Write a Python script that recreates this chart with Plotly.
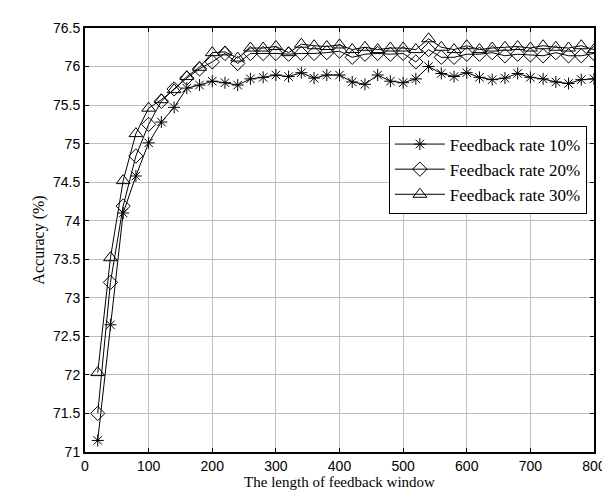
import plotly.graph_objects as go

window = list(range(20, 801, 20))

rate10 = [71.15, 72.65, 74.10, 74.58, 75.01, 75.28, 75.47, 75.72, 75.76, 75.81,
          75.79, 75.76, 75.84, 75.86, 75.89, 75.87, 75.92, 75.85, 75.89, 75.89,
          75.80, 75.77, 75.89, 75.81, 75.79, 75.84, 76.00, 75.91, 75.87, 75.92,
          75.86, 75.83, 75.85, 75.91, 75.86, 75.84, 75.80, 75.78, 75.83, 75.84]

rate20 = [71.50, 73.20, 74.19, 74.84, 75.25, 75.55, 75.71, 75.85, 75.97, 76.06,
          76.17, 76.04, 76.17, 76.17, 76.17, 76.16, 76.17, 76.17, 76.18, 76.20,
          76.12, 76.16, 76.17, 76.16, 76.17, 76.06, 76.22, 76.12, 76.12, 76.16,
          76.16, 76.18, 76.14, 76.16, 76.15, 76.14, 76.18, 76.14, 76.14, 76.17]

rate30 = [72.03, 73.52, 74.52, 75.13, 75.46, 75.57, 75.70, 75.87, 75.99, 76.18,
          76.19, 76.11, 76.24, 76.24, 76.26, 76.18, 76.29, 76.27, 76.26, 76.28,
          76.22, 76.25, 76.22, 76.24, 76.24, 76.22, 76.36, 76.25, 76.22, 76.27,
          76.22, 76.24, 76.25, 76.26, 76.24, 76.27, 76.25, 76.24, 76.27, 76.22]

names = ["Feedback rate 10%", "Feedback rate 20%", "Feedback rate 30%"]
symbols = ["asterisk-open", "diamond-open", "triangle-up-open"]
sizes = [10, 11, 12]

fig = go.Figure()
for ys, nm, sym, sz in zip([rate10, rate20, rate30], names, symbols, sizes):
    fig.add_trace(go.Scatter(
        x=window, y=ys, name=nm, mode="lines+markers",
        line=dict(color="black", width=1),
        marker=dict(symbol=sym, size=sz, color="black", line=dict(color="black", width=1)),
    ))

axis_common = dict(
    showline=True, linecolor="black", linewidth=2, mirror="ticks",
    ticks="inside", ticklen=4, tickcolor="black",
    showgrid=True, gridcolor="#bdbdbd", gridwidth=1,
    zeroline=False,
    tickfont=dict(family="Liberation Sans, Arial", size=14, color="black"),
)

fig.update_layout(
    width=610, height=497,
    margin=dict(l=77, r=14, t=18, b=53),
    paper_bgcolor="white", plot_bgcolor="white",
    showlegend=True,
    legend=dict(
        x=0.597, y=0.77, xanchor="left", yanchor="top",
        bordercolor="black", borderwidth=1, bgcolor="white",
        font=dict(family="Liberation Serif, Times New Roman", size=17, color="black"),
        tracegroupgap=0, itemwidth=50, entrywidth=200,
    ),
    xaxis=dict(
        range=[0, 800], dtick=100,
        title=dict(text="The length of feedback window", standoff=4,
                   font=dict(family="Liberation Serif, Times New Roman", size=15, color="black")),
        **axis_common,
    ),
    yaxis=dict(
        range=[71, 76.5], dtick=0.5,
        title=dict(text="Accuracy (%)", standoff=4,
                   font=dict(family="Liberation Serif, Times New Roman", size=16, color="black")),
        **axis_common,
    ),
)

fig.write_html("out.html")
